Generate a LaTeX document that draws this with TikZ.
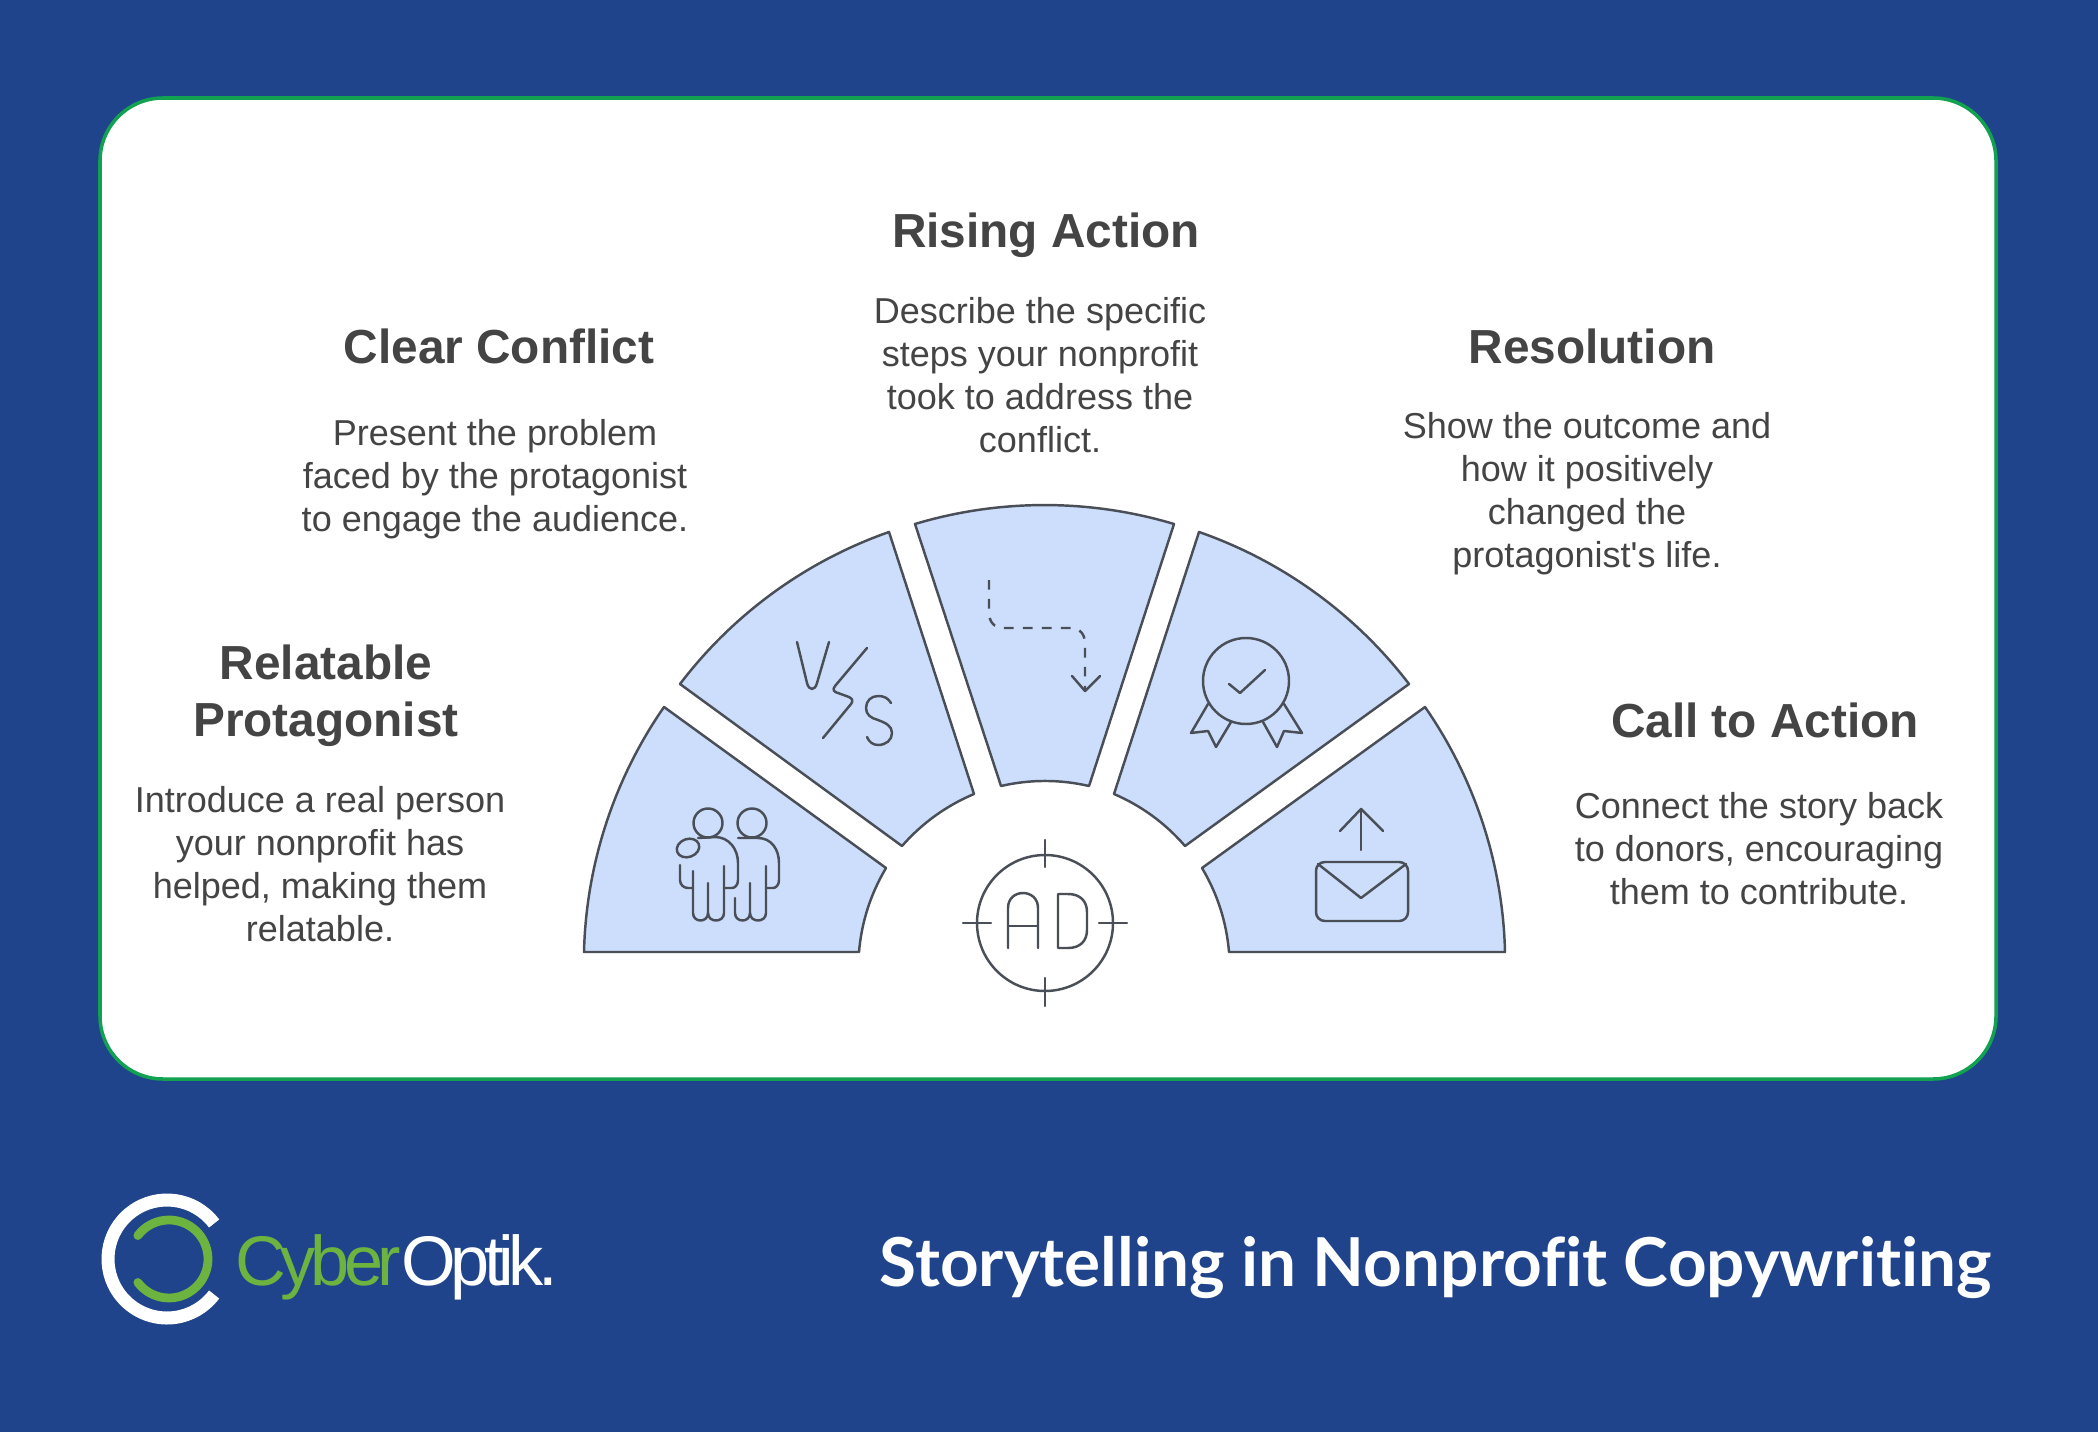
\documentclass[tikz,border=0pt]{standalone}
\usepackage{fontspec}
\setmainfont{Liberation Sans}
\newfontfamily\titlefont[Ligatures=NoCommon]{Lato}
\definecolor{pagebg}{HTML}{1F448B}
\definecolor{cardline}{HTML}{12A150}
\definecolor{wedgefill}{HTML}{CCDEFC}
\definecolor{inkline}{HTML}{4A4F57}
\definecolor{inktext}{HTML}{444444}
\definecolor{logogreen}{HTML}{6DB33F}
\tikzset{
    wedge/.style={draw=inkline,fill=wedgefill,line width=1.4pt,line join=round},
    icon/.style={draw=inkline,line width=1.4pt,line cap=round,line join=round},
    heading/.style={text=inktext,align=center,font=\fontsize{27.2}{32.7}\selectfont\bfseries},
    body/.style={text=inktext,align=center,font=\fontsize{20.5}{24.5}\selectfont}
}
\begin{document}
\begin{tikzpicture}[x=0.02cm,y=-0.02cm]
    \useasboundingbox (0,0) rectangle (2098,1432);
    \fill[pagebg] (0,0) rectangle (2098,1432);
    \draw[cardline,fill=white,line width=2pt,rounded corners=1.26cm] (100,98) rectangle (1996,1079);

    \draw[wedge] (584,952) to[bend left=16.7,looseness=.87] (664,707) -- (886,868) to[bend right=13,looseness=.87] (859,952) -- cycle;
    \draw[wedge] (680,684) to[bend left=16.7,looseness=.87] (889,532) -- (974,794) to[bend right=13,looseness=.87] (902,846) -- cycle;
    \draw[wedge] (915,524) to[bend left=16.7,looseness=.87] (1174,524) -- (1089,786) to[bend right=13,looseness=.87] (1001,786) -- cycle;
    \draw[wedge] (1199,532) to[bend left=16.7,looseness=.87] (1409,684) -- (1185,846) to[bend right=13,looseness=.87] (1114,794) -- cycle;
    \draw[wedge] (1425,707) to[bend left=16.7,looseness=.87] (1505,952) -- (1229,952) to[bend right=13,looseness=.87] (1202,868) -- cycle;

    \draw[icon] (708,823) circle[radius=14.5];
    \draw[icon] (752,823) circle[radius=14.5];
    \draw[icon,rotate around={20:(688,848)}] (688,848) ellipse[x radius=11.5,y radius=9];
    \draw[icon] (698,838) -- (715,837) .. controls (729,837) and (738,849) .. (738,863) -- (738,880) .. controls (738,885) and (735,888) .. (732,888) -- (724,888);
    \draw[icon] (724,866) -- (724,913) .. controls (724,923) and (708,923) .. (708,913) -- (708,883);
    \draw[icon] (708,913) .. controls (708,923) and (693,923) .. (693,913) -- (693,871);
    \draw[icon] (680,865) -- (680,880) .. controls (680,885) and (684,888) .. (688,888) -- (693,888);
    \draw[icon] (738,838) -- (758,838) .. controls (771,838) and (779,849) .. (779,863) -- (779,880) .. controls (779,885) and (776,888) .. (773,888) -- (766,888);
    \draw[icon] (766,866) -- (766,913) .. controls (766,923) and (750,923) .. (750,913) -- (750,883);
    \draw[icon] (750,913) .. controls (750,923) and (735,923) .. (735,913) -- (735,898);

    \draw[icon] (797,642) -- (807,683) .. controls (809,691) and (815,691) .. (817,683) -- (829,642);
    \draw[icon] (867,648) -- (835,686) .. controls (832,690) and (834,692) .. (838,693) -- (849,697) .. controls (853,699) and (853,701) .. (851,704) -- (823,738);
    \draw[icon] (891,703) .. controls (888,698) and (884,696) .. (878,696) .. controls (871,696) and (866,701) .. (866,708) .. controls (866,715) and (871,718) .. (878,720) .. controls (886,723) and (892,726) .. (892,733) .. controls (892,740) and (886,745) .. (878,745) .. controls (873,745) and (869,742) .. (867,737);

    \draw[icon,dash pattern=on 5.5pt off 5.3pt,line cap=butt] (989,580) -- (989,612) .. controls (989,622) and (994,628) .. (1004,628) -- (1070,628) .. controls (1080,628) and (1085,634) .. (1085,644) -- (1085,689);
    \draw[icon] (1072,676) -- (1085,691) -- (1100,676);

    \draw[icon] (1246,681) circle[radius=43];
    \draw[icon] (1229,684) -- (1240,693) -- (1265,670);
    \draw[icon] (1208,704) -- (1191,733) -- (1208,731) -- (1216,747) -- (1231,722);
    \draw[icon] (1284,704) -- (1302,733) -- (1284,731) -- (1277,747) -- (1263,722);

    \draw[icon,rounded corners=5pt] (1316,862) rectangle (1408,921);
    \draw[icon] (1318,864) -- (1361,898) -- (1406,864);
    \draw[icon] (1361,850) -- (1361,809);
    \draw[icon] (1340,831) -- (1361,809) -- (1383,831);

    \draw[icon] (1045,923) circle[radius=68];
    \draw[icon] (1045,840) -- (1045,867);
    \draw[icon] (1045,978) -- (1045,1006);
    \draw[icon] (963,923) -- (991,923);
    \draw[icon] (1099,923) -- (1127,923);
    \draw[icon] (1008,948) -- (1008,908) .. controls (1008,888) and (1038,888) .. (1038,908) -- (1038,948);
    \draw[icon] (1008,926) -- (1038,926);
    \draw[icon] (1058,894) -- (1058,948) -- (1068,948) .. controls (1080,948) and (1087,941) .. (1087,930) -- (1087,912) .. controls (1087,901) and (1080,894) .. (1068,894) -- cycle;

    \node[heading] (protagonisthead) at (326,696) {Relatable\\Protagonist};
    \node[body] (protagonistbody) at (320,864) {Introduce a real person\\your nonprofit has\\helped, making them\\relatable.};
    \node[heading] (conflicthead) at (499,346) {Clear Conflict};
    \node[body] (conflictbody) at (495,479) {Present the problem\\faced by the protagonist\\to engage the audience.};
    \node[heading] (risinghead) at (1046,235) {Rising Action};
    \node[body] (risingbody) at (1040,375) {Describe the specific\\steps your nonprofit\\took to address the\\conflict.};
    \node[heading] (resolutionhead) at (1592,346) {Resolution};
    \node[body] (resolutionbody) at (1587,494) {Show the outcome and\\how it positively\\changed the\\protagonist\textquotesingle s life.};
    \node[heading] (actionhead) at (1765,720) {Call to Action};
    \node[body] (actionbody) at (1759,849) {Connect the story back\\to donors, encouraging\\them to contribute.};

    \draw[white,line width=7.4pt] (167,1259) ++(-37:59) arc[start angle=-37,end angle=-323,radius=59];
    \draw[logogreen,line width=5pt,line cap=round] (169,1259) ++(-143:39) arc[start angle=-143,end angle=143,radius=39];
    \node[anchor=base west,inner sep=0pt,font=\fontsize{40}{40}\selectfont\addfontfeature{LetterSpace=-7.7}] (logotext) at (235,1285) {\textcolor{logogreen}{Cyber}\textcolor{white}{Optik.}};

    \node[anchor=base east,inner sep=0pt,text=white,font=\titlefont\fontsize{38.4}{38.4}\selectfont\bfseries] (charttitle) at (1992,1286) {Storytelling in Nonprofit Copywriting};
\end{tikzpicture}
\end{document}
